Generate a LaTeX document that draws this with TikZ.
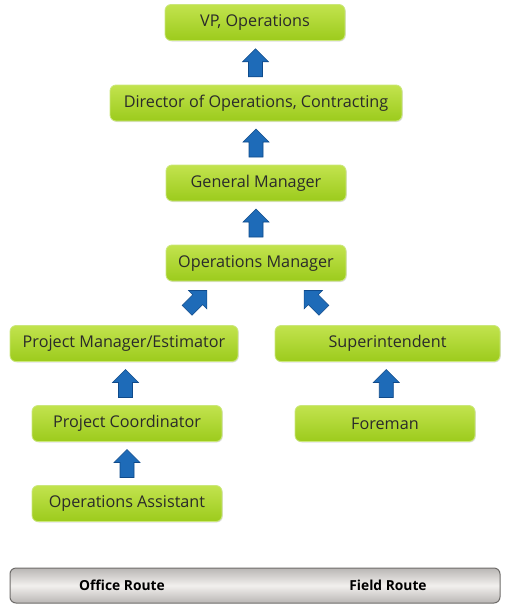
\documentclass[tikz,border=0pt]{standalone}
\usepackage{fontspec}
\setmainfont{Open Sans}
\usetikzlibrary{calc,shadows}
\definecolor{greentop}{HTML}{C2E34E}
\definecolor{greenbot}{HTML}{9CCB1C}
\definecolor{boxedge}{HTML}{CBE77C}
\definecolor{textc}{HTML}{2A2A2A}
\definecolor{arrowblue}{HTML}{1E6BB8}
\definecolor{arrowedge}{HTML}{0F4A8A}
\definecolor{bartop}{HTML}{F2F0EE}
\definecolor{barbot}{HTML}{B9B6B4}
\definecolor{baredge}{HTML}{6E6C6A}
\tikzset{
  box/.style={draw=boxedge, line width=0.8pt, rounded corners=6pt,
    top color=greentop, bottom color=greenbot, minimum height=36pt,
    text=textc, font=\fontsize{16.2}{18}\selectfont, inner sep=0pt,
    drop shadow={shadow xshift=0.8pt, shadow yshift=-1pt, opacity=0.25}},
  blockarrow/.style={fill=arrowblue, draw=arrowedge, line width=0.6pt, line join=miter},
  uparr/.pic={\draw[blockarrow] (0,14) -- (13,1) -- (7,1) -- (7,-14) -- (-7,-14) -- (-7,1) -- (-13,1) -- cycle;},
  bar/.style={draw=baredge, line width=1pt, rounded corners=6pt,
    top color=barbot, bottom color=barbot, middle color=bartop,
    minimum width=490pt, minimum height=35pt, inner sep=0pt},
  bartext/.style={font=\fontsize{13.8}{16}\selectfont\bfseries, text=black}
}
\begin{document}
\begin{tikzpicture}[x=1pt,y=1pt]
\useasboundingbox (0,0) rectangle (510,-614);
\node[box, minimum width=180pt] (vp) at (255,-22.5) {VP, Operations};
\node[box, minimum width=292pt] (dir) at (256,-103) {Director of Operations, Contracting};
\node[box, minimum width=180pt] (gm) at (256,-183) {General Manager};
\node[box, minimum width=180pt] (om) at (256,-263) {Operations Manager};
\node[box, minimum width=228pt] (pm) at (124,-343.5) {Project Manager/Estimator};
\node[box, minimum width=225pt] (si) at (387.5,-343.5) {Superintendent};
\node[box, minimum width=190pt] (pc) at (127,-423.5) {Project Coordinator};
\node[box, minimum width=180pt] (fm) at (385,-423.5) {Foreman};
\node[box, minimum width=190pt] (oa) at (127,-503.5) {Operations Assistant};
\node[bar] (bar) at (255,-585.5) {};
\node[bartext] (office) at (122,-585.5) {Office Route};
\node[bartext] (field) at (388,-585.5) {Field Route};
\pic at ($(dir.north)!0.5!(vp.south)$) {uparr};
\pic at ($(gm.north)!0.5!(dir.south)$) {uparr};
\pic at ($(om.north)!0.5!(gm.south)$) {uparr};
\pic[rotate=-45] at ($(om.south)+(-59,-19)$) {uparr};
\pic[rotate=45] at ($(om.south)+(58,-19)$) {uparr};
\pic at ($(pm.north)!0.5!(pc.south)$) {uparr};
\pic at ($(pc.north)!0.5!(oa.south)$) {uparr};
\pic at ($(si.north)!0.5!(fm.south)$) {uparr};
\end{tikzpicture}
\end{document}
